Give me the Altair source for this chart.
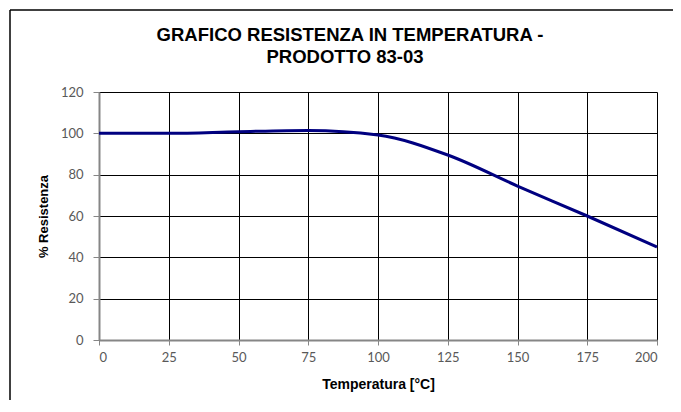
import altair as alt
import pandas as pd

title_lines = ["GRAFICO RESISTENZA IN TEMPERATURA -", "PRODOTTO 83-03"]
temps = [0, 25, 50, 75, 100, 125, 150, 175, 200]
resist = [100, 100, 100.8, 101.4, 99.2, 89.5, 74.5, 60, 45]
x_ticks = [0, 25, 50, 75, 100, 125, 150, 175, 200]
y_ticks = [0, 20, 40, 60, 80, 100, 120]

df = pd.DataFrame({"t": temps, "r": resist})
one = pd.DataFrame({"a": [0]})

W, H = 558, 248
LABEL_FONT = "Lato"

line = alt.Chart(df).mark_line(color="#000080", strokeWidth=3, interpolate="monotone").encode(
    x=alt.X("t:Q", scale=alt.Scale(domain=[0, 200], nice=False),
            axis=alt.Axis(values=x_ticks, title="Temperatura [°C]", labelPadding=6,
                          tickSize=5, titlePadding=13, titleFontSize=14)),
    y=alt.Y("r:Q", scale=alt.Scale(domain=[0, 120], nice=False),
            axis=alt.Axis(values=y_ticks, title="% Resistenza", labelPadding=10,
                          tickSize=6, titlePadding=10, titleFontSize=13)),
)

frame_top = alt.Chart(one).mark_rule(color="black", strokeWidth=1.5).encode(
    x=alt.value(-89), x2=alt.value(W + 40), y=alt.value(-82))
frame_left = alt.Chart(one).mark_rule(color="black", strokeWidth=1.5).encode(
    x=alt.value(-89), y=alt.value(-82), y2=alt.value(H + 90))

title_style = dict(font="Liberation Sans", fontSize=18.5, fontWeight="bold", color="black",
                   align="center", baseline="middle")
title1 = alt.Chart(one).mark_text(**title_style).encode(
    text=alt.value(title_lines[0]), x=alt.value(251), y=alt.value(-57))
title2 = alt.Chart(one).mark_text(**title_style).encode(
    text=alt.value(title_lines[1]), x=alt.value(246), y=alt.value(-35))

chart = alt.layer(line, frame_top, frame_left, title1, title2).properties(
    width=W, height=H,
    autosize="none",
    background="white",
    padding={"left": 91, "top": 84, "right": 16, "bottom": 60},
).configure_view(stroke=None).configure_axis(
    grid=True, gridColor="#000000", gridWidth=1, gridOpacity=1,
    domainColor="#868686", domainWidth=2, tickColor="#868686", tickWidth=1,
    labelColor="#595959", labelFont=LABEL_FONT, labelFontSize=13,
    titleFont="Liberation Sans", titleFontWeight="bold", titleColor="black",
)

chart.save("out.html", embed_options={"renderer": "svg", "actions": False})
